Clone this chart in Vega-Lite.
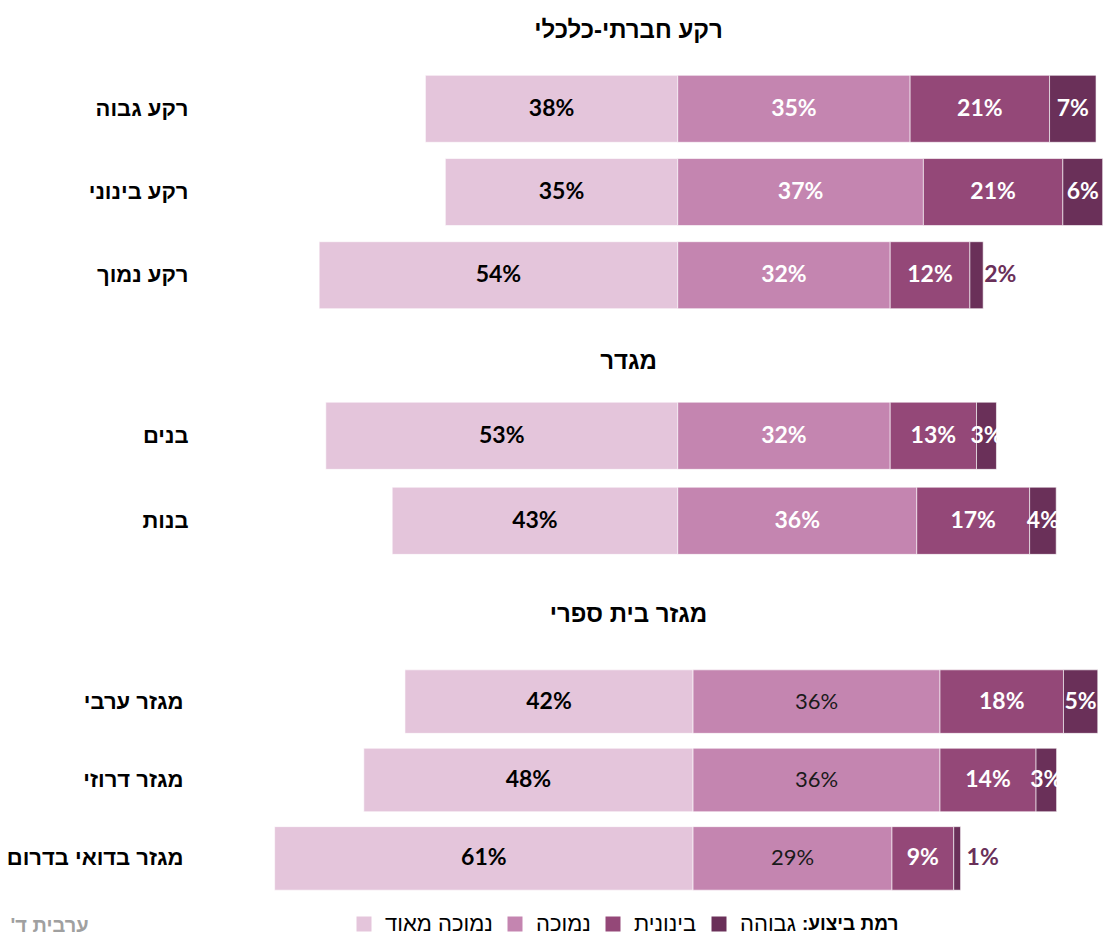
{
  "$schema": "https://vega.github.io/schema/vega-lite/v6.json",
  "background": "white",
  "padding": {"top": 19, "left": 0, "right": 0, "bottom": 0},
  "config": {
    "view": {"stroke": null},
    "font": "Liberation Sans",
    "title": {"font": "Liberation Sans", "fontSize": 24, "fontWeight": "bold", "color": "#000000", "anchor": "middle", "frame": "group", "dx": -21},
    "legend": {"labelFont": "Liberation Sans", "titleFont": "Liberation Sans"}
  },
  "data": {"values": [
    {"g": "ses", "cat": "רקע גבוה", "level": "נמוכה מאוד", "rank": 0, "value": -0.38, "pct": 0.38},
    {"g": "ses", "cat": "רקע גבוה", "level": "נמוכה", "rank": 1, "value": 0.35, "pct": 0.35},
    {"g": "ses", "cat": "רקע גבוה", "level": "בינונית", "rank": 2, "value": 0.21, "pct": 0.21},
    {"g": "ses", "cat": "רקע גבוה", "level": "גבוהה", "rank": 3, "value": 0.07, "pct": 0.07},
    {"g": "ses", "cat": "רקע בינוני", "level": "נמוכה מאוד", "rank": 0, "value": -0.35, "pct": 0.35},
    {"g": "ses", "cat": "רקע בינוני", "level": "נמוכה", "rank": 1, "value": 0.37, "pct": 0.37},
    {"g": "ses", "cat": "רקע בינוני", "level": "בינונית", "rank": 2, "value": 0.21, "pct": 0.21},
    {"g": "ses", "cat": "רקע בינוני", "level": "גבוהה", "rank": 3, "value": 0.06, "pct": 0.06},
    {"g": "ses", "cat": "רקע נמוך", "level": "נמוכה מאוד", "rank": 0, "value": -0.54, "pct": 0.54},
    {"g": "ses", "cat": "רקע נמוך", "level": "נמוכה", "rank": 1, "value": 0.32, "pct": 0.32},
    {"g": "ses", "cat": "רקע נמוך", "level": "בינונית", "rank": 2, "value": 0.12, "pct": 0.12},
    {"g": "ses", "cat": "רקע נמוך", "level": "גבוהה", "rank": 3, "value": 0.02, "pct": 0.02},
    {"g": "gender", "cat": "בנים", "level": "נמוכה מאוד", "rank": 0, "value": -0.53, "pct": 0.53},
    {"g": "gender", "cat": "בנים", "level": "נמוכה", "rank": 1, "value": 0.32, "pct": 0.32},
    {"g": "gender", "cat": "בנים", "level": "בינונית", "rank": 2, "value": 0.13, "pct": 0.13},
    {"g": "gender", "cat": "בנים", "level": "גבוהה", "rank": 3, "value": 0.03, "pct": 0.03},
    {"g": "gender", "cat": "בנות", "level": "נמוכה מאוד", "rank": 0, "value": -0.43, "pct": 0.43},
    {"g": "gender", "cat": "בנות", "level": "נמוכה", "rank": 1, "value": 0.36, "pct": 0.36},
    {"g": "gender", "cat": "בנות", "level": "בינונית", "rank": 2, "value": 0.17, "pct": 0.17},
    {"g": "gender", "cat": "בנות", "level": "גבוהה", "rank": 3, "value": 0.04, "pct": 0.04},
    {"g": "sector", "cat": "מגזר ערבי", "level": "נמוכה מאוד", "rank": 0, "value": -0.42, "pct": 0.42},
    {"g": "sector", "cat": "מגזר ערבי", "level": "נמוכה", "rank": 1, "value": 0.36, "pct": 0.36},
    {"g": "sector", "cat": "מגזר ערבי", "level": "בינונית", "rank": 2, "value": 0.18, "pct": 0.18},
    {"g": "sector", "cat": "מגזר ערבי", "level": "גבוהה", "rank": 3, "value": 0.05, "pct": 0.05},
    {"g": "sector", "cat": "מגזר דרוזי", "level": "נמוכה מאוד", "rank": 0, "value": -0.48, "pct": 0.48},
    {"g": "sector", "cat": "מגזר דרוזי", "level": "נמוכה", "rank": 1, "value": 0.36, "pct": 0.36},
    {"g": "sector", "cat": "מגזר דרוזי", "level": "בינונית", "rank": 2, "value": 0.14, "pct": 0.14},
    {"g": "sector", "cat": "מגזר דרוזי", "level": "גבוהה", "rank": 3, "value": 0.03, "pct": 0.03},
    {"g": "sector", "cat": "מגזר בדואי בדרום", "level": "נמוכה מאוד", "rank": 0, "value": -0.61, "pct": 0.61},
    {"g": "sector", "cat": "מגזר בדואי בדרום", "level": "נמוכה", "rank": 1, "value": 0.29, "pct": 0.29},
    {"g": "sector", "cat": "מגזר בדואי בדרום", "level": "בינונית", "rank": 2, "value": 0.09, "pct": 0.09},
    {"g": "sector", "cat": "מגזר בדואי בדרום", "level": "גבוהה", "rank": 3, "value": 0.01, "pct": 0.01}
  ]},
  "spacing": 33,
  "resolve": {"scale": {"x": "independent", "y": "independent", "color": "shared"}},
  "vconcat": [
    {
      "width": 913, "height": 250,
      "title": {"text": "רקע חברתי-כלכלי", "offset": 24},
      "transform": [
        {"filter": "datum.g === 'ses'"},
        {"stack": "value", "groupby": ["cat"], "sort": [{"field": "rank", "order": "ascending"}], "as": ["x0", "x1"], "offset": "zero"},
        {"calculate": "(datum.x0 + datum.x1) / 2", "as": "mid"}
      ],
      "encoding": {
        "y": {"field": "cat", "type": "nominal", "sort": ["רקע גבוה", "רקע בינוני", "רקע נמוך"],
          "scale": {"paddingInner": 0.195, "paddingOuter": 0.1},
          "axis": {"title": null, "ticks": false, "domain": false, "labelFontSize": 22, "labelFontWeight": "bold", "labelColor": "#000000", "labelPadding": 5, "minExtent": 193, "maxExtent": 193, "labelLimit": 0}}
      },
      "layer": [
        {
          "mark": {"type": "bar", "stroke": "white", "strokeWidth": 0.6},
          "encoding": {
            "x": {"field": "x0", "type": "quantitative", "scale": {"domain": [-0.73, 0.645], "nice": false, "zero": false}, "axis": null},
            "x2": {"field": "x1"},
            "color": {"field": "level", "type": "nominal",
              "scale": {"domain": ["נמוכה מאוד", "נמוכה", "בינונית", "גבוהה"], "range": ["#E4C5DB", "#C485B0", "#944878", "#6A3059"]},
              "legend": {"orient": "none", "legendX": 160, "legendY": 846, "direction": "horizontal", "title": "רמת ביצוע:‏", "titleOrient": "right", "titleFontSize": 19, "titleFontWeight": "bold", "titleColor": "#000000", "titlePadding": 6, "labelFontSize": 22, "labelColor": "#000000", "symbolType": "square", "symbolSize": 225, "symbolStrokeWidth": 0, "columnPadding": 11, "labelOffset": 10}}
          }
        },
        {
          "transform": [{"filter": "datum.pct >= 0.03"}],
          "mark": {"type": "text", "font": "Lato", "fontSize": 23, "fontWeight": "bold"},
          "encoding": {
            "x": {"field": "mid", "type": "quantitative", "scale": {"domain": [-0.73, 0.645], "nice": false, "zero": false}, "axis": null},
            "text": {"field": "pct", "type": "quantitative", "format": ".0%"},
            "color": {"condition": {"test": "datum.level === 'נמוכה מאוד'", "value": "#000000"}, "value": "#ffffff"}
          }
        },
        {
          "transform": [{"filter": "datum.pct < 0.03"}],
          "mark": {"type": "text", "font": "Lato", "fontSize": 23, "fontWeight": "bold", "align": "left", "dx": 1, "color": "#6A3059"},
          "encoding": {
            "x": {"field": "x1", "type": "quantitative", "scale": {"domain": [-0.73, 0.645], "nice": false, "zero": false}, "axis": null},
            "text": {"field": "pct", "type": "quantitative", "format": ".0%"}
          }
        }
      ]
    },
    {
      "width": 913, "height": 177,
      "title": {"text": "מגדר", "offset": 19},
      "transform": [
        {"filter": "datum.g === 'gender'"},
        {"stack": "value", "groupby": ["cat"], "sort": [{"field": "rank", "order": "ascending"}], "as": ["x0", "x1"], "offset": "zero"},
        {"calculate": "(datum.x0 + datum.x1) / 2", "as": "mid"}
      ],
      "encoding": {
        "y": {"field": "cat", "type": "nominal", "sort": ["בנים", "בנות"],
          "scale": {"paddingInner": 0.21, "paddingOuter": 0.146, "align": 0.37},
          "axis": {"title": null, "ticks": false, "domain": false, "labelFontSize": 22, "labelFontWeight": "bold", "labelColor": "#000000", "labelPadding": 5, "minExtent": 193, "maxExtent": 193, "labelLimit": 0}}
      },
      "layer": [
        {
          "mark": {"type": "bar", "stroke": "white", "strokeWidth": 0.6},
          "encoding": {
            "x": {"field": "x0", "type": "quantitative", "scale": {"domain": [-0.73, 0.645], "nice": false, "zero": false}, "axis": null},
            "x2": {"field": "x1"},
            "color": {"field": "level", "type": "nominal",
              "scale": {"domain": ["נמוכה מאוד", "נמוכה", "בינונית", "גבוהה"], "range": ["#E4C5DB", "#C485B0", "#944878", "#6A3059"]},
              "legend": {"orient": "none", "legendX": 160, "legendY": 846, "direction": "horizontal", "title": "רמת ביצוע:‏", "titleOrient": "right", "titleFontSize": 19, "titleFontWeight": "bold", "titleColor": "#000000", "titlePadding": 6, "labelFontSize": 22, "labelColor": "#000000", "symbolType": "square", "symbolSize": 225, "symbolStrokeWidth": 0, "columnPadding": 11, "labelOffset": 10}}
          }
        },
        {
          "transform": [{"filter": "datum.pct >= 0.03"}],
          "mark": {"type": "text", "font": "Lato", "fontSize": 23, "fontWeight": "bold"},
          "encoding": {
            "x": {"field": "mid", "type": "quantitative", "scale": {"domain": [-0.73, 0.645], "nice": false, "zero": false}, "axis": null},
            "text": {"field": "pct", "type": "quantitative", "format": ".0%"},
            "color": {"condition": {"test": "datum.level === 'נמוכה מאוד'", "value": "#000000"}, "value": "#ffffff"}
          }
        }
      ]
    },
    {
      "width": 913, "height": 236,
      "title": {"text": "מגזר בית ספרי", "offset": 35},
      "transform": [
        {"filter": "datum.g === 'sector'"},
        {"stack": "value", "groupby": ["cat"], "sort": [{"field": "rank", "order": "ascending"}], "as": ["x0", "x1"], "offset": "zero"},
        {"calculate": "(datum.x0 + datum.x1) / 2", "as": "mid"}
      ],
      "encoding": {
        "y": {"field": "cat", "type": "nominal", "sort": ["מגזר ערבי", "מגזר דרוזי", "מגזר בדואי בדרום"],
          "scale": {"paddingInner": 0.19, "paddingOuter": 0.1},
          "axis": {"title": null, "ticks": false, "domain": false, "labelFontSize": 22, "labelFontWeight": "bold", "labelColor": "#000000", "labelPadding": 10, "minExtent": 193, "maxExtent": 193, "labelLimit": 0}}
      },
      "layer": [
        {
          "mark": {"type": "bar", "stroke": "white", "strokeWidth": 0.6},
          "encoding": {
            "x": {"field": "x0", "type": "quantitative", "scale": {"domain": [-0.729, 0.602], "nice": false, "zero": false},
              "axis": {"labels": false, "ticks": false, "domain": false, "grid": false, "title": "ערבית ד'‏", "titleX": -183, "titleY": 27, "titleAlign": "left", "titleBaseline": "middle", "titleFont": "Liberation Sans", "titleFontSize": 20, "titleFontWeight": "bold", "titleColor": "#a0a0a0"}},
            "x2": {"field": "x1"},
            "color": {"field": "level", "type": "nominal",
              "scale": {"domain": ["נמוכה מאוד", "נמוכה", "בינונית", "גבוהה"], "range": ["#E4C5DB", "#C485B0", "#944878", "#6A3059"]},
              "legend": {"orient": "none", "legendX": 160, "legendY": 846, "direction": "horizontal", "title": "רמת ביצוע:‏", "titleOrient": "right", "titleFontSize": 19, "titleFontWeight": "bold", "titleColor": "#000000", "titlePadding": 6, "labelFontSize": 22, "labelColor": "#000000", "symbolType": "square", "symbolSize": 225, "symbolStrokeWidth": 0, "columnPadding": 11, "labelOffset": 10}}
          }
        },
        {
          "transform": [{"filter": "datum.pct >= 0.03 && datum.level !== 'נמוכה'"}],
          "mark": {"type": "text", "font": "Lato", "fontSize": 23, "fontWeight": "bold"},
          "encoding": {
            "x": {"field": "mid", "type": "quantitative", "scale": {"domain": [-0.729, 0.602], "nice": false, "zero": false},
              "axis": {"labels": false, "ticks": false, "domain": false, "grid": false, "title": "ערבית ד'‏", "titleX": -183, "titleY": 27, "titleAlign": "left", "titleBaseline": "middle", "titleFont": "Liberation Sans", "titleFontSize": 20, "titleFontWeight": "bold", "titleColor": "#a0a0a0"}},
            "text": {"field": "pct", "type": "quantitative", "format": ".0%"},
            "color": {"condition": {"test": "datum.level === 'נמוכה מאוד'", "value": "#000000"}, "value": "#ffffff"}
          }
        },
        {
          "transform": [{"filter": "datum.level === 'נמוכה'"}],
          "mark": {"type": "text", "font": "Lato", "fontSize": 22, "fontWeight": "normal", "color": "#1a1a1a"},
          "encoding": {
            "x": {"field": "mid", "type": "quantitative", "scale": {"domain": [-0.729, 0.602], "nice": false, "zero": false},
              "axis": {"labels": false, "ticks": false, "domain": false, "grid": false, "title": "ערבית ד'‏", "titleX": -183, "titleY": 27, "titleAlign": "left", "titleBaseline": "middle", "titleFont": "Liberation Sans", "titleFontSize": 20, "titleFontWeight": "bold", "titleColor": "#a0a0a0"}},
            "text": {"field": "pct", "type": "quantitative", "format": ".0%"}
          }
        },
        {
          "transform": [{"filter": "datum.pct < 0.03"}],
          "mark": {"type": "text", "font": "Lato", "fontSize": 23, "fontWeight": "bold", "align": "left", "dx": 6, "color": "#6A3059"},
          "encoding": {
            "x": {"field": "x1", "type": "quantitative", "scale": {"domain": [-0.729, 0.602], "nice": false, "zero": false},
              "axis": {"labels": false, "ticks": false, "domain": false, "grid": false, "title": "ערבית ד'‏", "titleX": -183, "titleY": 27, "titleAlign": "left", "titleBaseline": "middle", "titleFont": "Liberation Sans", "titleFontSize": 20, "titleFontWeight": "bold", "titleColor": "#a0a0a0"}},
            "text": {"field": "pct", "type": "quantitative", "format": ".0%"}
          }
        }
      ]
    }
  ]
}
